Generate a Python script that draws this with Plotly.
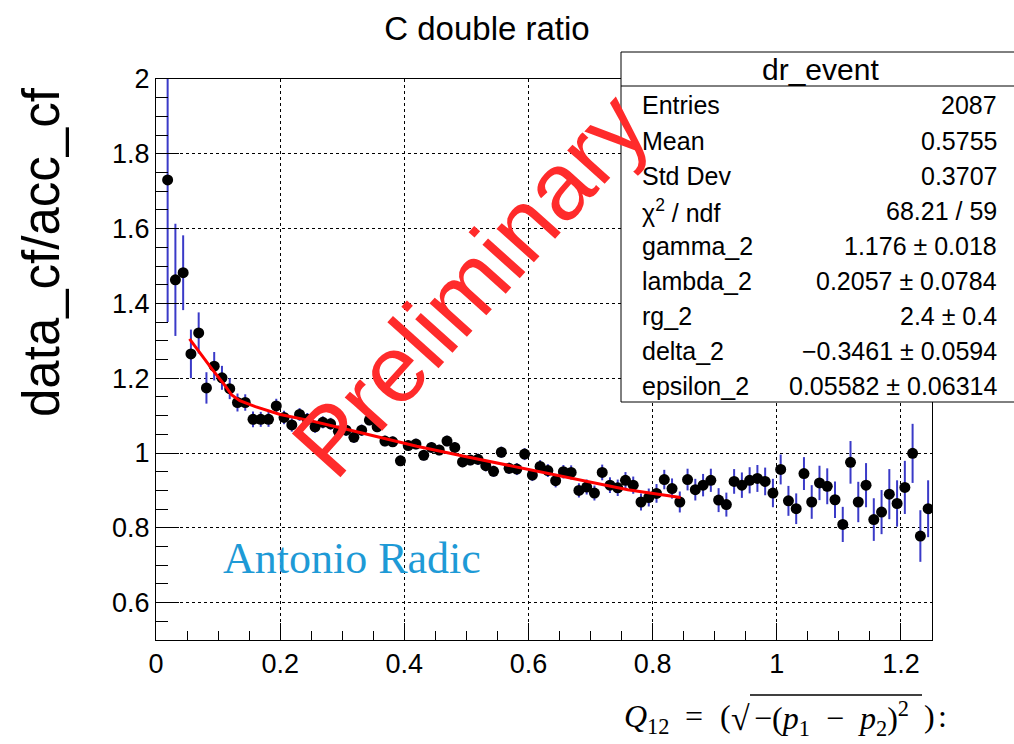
import plotly.graph_objects as go

# ---------------- data ----------------
q_bins = [0.01875, 0.03125, 0.04375, 0.05625, 0.06875, 0.08125, 0.09375, 0.10625, 0.11875, 0.13125,
          0.14375, 0.15625, 0.16875, 0.18125, 0.19375, 0.20625, 0.21875, 0.23125, 0.24375, 0.25625,
          0.26875, 0.28125, 0.29375, 0.30625, 0.31875, 0.33125, 0.34375, 0.35625, 0.36875, 0.38125,
          0.39375, 0.40625, 0.41875, 0.43125, 0.44375, 0.45625, 0.46875, 0.48125, 0.49375, 0.50625,
          0.51875, 0.53125, 0.54375, 0.55625, 0.56875, 0.58125, 0.59375, 0.60625, 0.61875, 0.63125,
          0.64375, 0.65625, 0.66875, 0.68125, 0.69375, 0.70625, 0.71875, 0.73125, 0.74375, 0.75625,
          0.76875, 0.78125, 0.79375, 0.80625, 0.81875, 0.83125, 0.84375, 0.85625, 0.86875, 0.88125,
          0.89375, 0.90625, 0.91875, 0.93125, 0.94375, 0.95625, 0.96875, 0.98125, 0.99375, 1.00625,
          1.01875, 1.03125, 1.04375, 1.05625, 1.06875, 1.08125, 1.09375, 1.10625, 1.11875, 1.13125,
          1.14375, 1.15625, 1.16875, 1.18125, 1.19375, 1.20625, 1.21875, 1.23125, 1.24375]

ratio = [1.730, 1.463, 1.482, 1.265, 1.321, 1.174, 1.232, 1.201, 1.172, 1.135,
         1.135, 1.090, 1.090, 1.090, 1.126, 1.095, 1.075, 1.103, 1.090, 1.070,
         1.082, 1.078, 1.058, 1.061, 1.042, 1.061, 1.088, 1.070, 1.032, 1.030,
         0.979, 1.020, 1.024, 0.994, 1.015, 1.008, 1.032, 1.015, 0.976, 0.981,
         0.983, 0.966, 0.951, 1.002, 0.959, 0.957, 0.997, 0.941, 0.964, 0.953,
         0.926, 0.950, 0.948, 0.900, 0.909, 0.893, 0.948, 0.914, 0.907, 0.927,
         0.914, 0.869, 0.881, 0.892, 0.929, 0.905, 0.869, 0.929, 0.902, 0.914,
         0.927, 0.874, 0.862, 0.924, 0.914, 0.927, 0.932, 0.924, 0.893, 0.956,
         0.872, 0.851, 0.945, 0.869, 0.920, 0.911, 0.875, 0.809, 0.975, 0.869,
         0.914, 0.822, 0.842, 0.890, 0.865, 0.908, 0.999, 0.778, 0.851]

ratio_err = [0.38, 0.15, 0.10, 0.065, 0.055, 0.042, 0.038, 0.032, 0.028, 0.024,
             0.022, 0.021, 0.020, 0.020, 0.019, 0.018, 0.018, 0.017, 0.017, 0.016,
             0.016, 0.016, 0.015, 0.015, 0.015, 0.015, 0.014, 0.014, 0.014, 0.014,
             0.014, 0.014, 0.014, 0.014, 0.014, 0.014, 0.014, 0.014, 0.014, 0.014,
             0.015, 0.015, 0.015, 0.015, 0.015, 0.016, 0.016, 0.016, 0.017, 0.017,
             0.018, 0.018, 0.019, 0.019, 0.020, 0.020, 0.021, 0.021, 0.022, 0.022,
             0.023, 0.023, 0.024, 0.025, 0.026, 0.027, 0.028, 0.029, 0.029, 0.030,
             0.031, 0.032, 0.032, 0.033, 0.034, 0.035, 0.036, 0.037, 0.038, 0.040,
             0.040, 0.041, 0.044, 0.045, 0.046, 0.048, 0.049, 0.047, 0.057, 0.054,
             0.059, 0.057, 0.059, 0.067, 0.062, 0.071, 0.079, 0.069, 0.076]

fit_q = [0.054, 0.070, 0.090, 0.110, 0.122, 0.135, 0.160, 0.200, 0.250, 0.300,
         0.360, 0.420, 0.500, 0.600, 0.700, 0.760, 0.845]
fit_val = [1.305, 1.268, 1.225, 1.183, 1.155, 1.140, 1.124, 1.103, 1.086, 1.066,
           1.041, 1.018, 0.990, 0.956, 0.922, 0.902, 0.881]

x_ticks = [0, 0.2, 0.4, 0.6, 0.8, 1.0, 1.2]
x_tick_text = ["0", "0.2", "0.4", "0.6", "0.8", "1", "1.2"]
y_ticks = [0.6, 0.8, 1.0, 1.2, 1.4, 1.6, 1.8, 2.0]
y_tick_text = ["0.6", "0.8", "1", "1.2", "1.4", "1.6", "1.8", "2"]

stats_labels = ["Entries", "Mean", "Std Dev", "χ<sup>2</sup> / ndf", "gamma_2",
                "lambda_2", "rg_2", "delta_2", "epsilon_2"]
stats_values = ["2087", "0.5755", "0.3707", "68.21 / 59", "1.176 ± 0.018",
                "0.2057 ± 0.0784", "2.4 ± 0.4", "−0.3461 ± 0.0594", "0.05582 ± 0.06314"]

# ---------------- layout helpers (pixel -> paper) ----------------
L, R, T, B = 156, 932, 79, 640
def px(p):
    return (p - L) / (R - L)
def py(p):
    return (B - p) / (B - T)

SANS = "Liberation Sans, Arial, Helvetica, sans-serif"
SERIF = "Liberation Serif, Times New Roman, serif"
NB = "\u00a0"

fig = go.Figure()
fig.add_trace(go.Scatter(
    x=q_bins, y=ratio, mode="markers",
    marker=dict(color="black", size=11),
    error_y=dict(type="data", array=ratio_err, color="#3a3ac8", thickness=2, width=0),
    showlegend=False,
))
fig.add_trace(go.Scatter(
    x=fit_q, y=fit_val, mode="lines",
    line=dict(color="#ff0000", width=3),
    showlegend=False,
))

axis_common = dict(
    ticks="inside", tickcolor="black", tickwidth=1,
    showline=True, linecolor="black", linewidth=1, mirror=True,
    showgrid=True, gridcolor="black", griddash="dot", gridwidth=1,
    zeroline=False, tickfont=dict(family=SANS, size=27, color="black"),
)
fig.update_xaxes(range=[0, 1.25], tickvals=x_ticks, ticktext=x_tick_text,
                 ticklen=17, minor=dict(dtick=0.05, tick0=0, ticklen=9, ticks="inside", tickcolor="black", showgrid=False),
                 **axis_common)
fig.update_yaxes(range=[0.5, 2], tickvals=y_ticks, ticktext=y_tick_text,
                 ticklen=23, minor=dict(dtick=0.05, tick0=0, ticklen=12, ticks="inside", tickcolor="black", showgrid=False),
                 **axis_common)

FY = 718  # vertical centre of the x-axis formula (pixels)
shapes = [
    dict(type="rect", xref="paper", yref="paper", x0=px(621), x1=px(1030), y0=py(402), y1=py(52),
         line=dict(color="black", width=1), fillcolor="white", layer="above"),
    dict(type="line", xref="paper", yref="paper", x0=px(621), x1=px(1030), y0=py(86), y1=py(86),
         line=dict(color="black", width=1), layer="above"),
    # overbar of the square root in the axis formula
    dict(type="line", xref="paper", yref="paper", x0=px(750), x1=px(922), y0=py(FY - 23), y1=py(FY - 23),
         line=dict(color="black", width=1.5), layer="above"),
]

def ann(text, x, y, size, family=SANS, color="black", xanchor="center", angle=0):
    return dict(text=text, xref="paper", yref="paper", x=px(x), y=py(y), showarrow=False,
                textangle=angle, font=dict(family=family, size=size, color=color),
                xanchor=xanchor, yanchor="middle")

annotations = [
    ann("data_cf/acc_cf", 42, 252, 51, angle=-90),
    ann("dr_event", 820, 69, 30),
    ann("Preliminary", 470, 284, 95, color="#ff2b2b", angle=-48),
    ann("Antonio Radic", 221, 558, 44, family=SERIF, color="#1e9ad6", xanchor="left"),
    # x-axis title pieces (formula)
    ann("<i>Q</i><sub>12</sub>", 622, FY, 32, family=SERIF, xanchor="left"),
    ann("=", 694, FY - 2, 32, family=SERIF),
    ann("(", 718, FY - 2, 32, family=SERIF, xanchor="left"),
    ann("√", 729, FY, 34, family=SERIF, xanchor="left"),
    ann("−(<i>p</i><sub>1</sub>" + NB * 2 + "−" + NB * 2 + "<i>p</i><sub>2</sub>)<sup>2</sup>",
        752, FY, 32, family=SERIF, xanchor="left"),
    ann(")", 922, FY - 2, 32, family=SERIF, xanchor="left"),
    ann(":", 936, FY - 2, 32, family=SERIF, xanchor="left"),
]
row_y = [105, 140.5, 176, 211, 246, 281, 316, 351, 386]
for lab, val, yy in zip(stats_labels, stats_values, row_y):
    annotations.append(ann(lab, 640, yy, 25, xanchor="left"))
    annotations.append(ann(val, 999, yy, 25, xanchor="right"))

fig.update_layout(
    width=1014, height=744,
    margin=dict(l=L, r=1014 - R, t=T, b=744 - B),
    paper_bgcolor="white", plot_bgcolor="white",
    title=dict(text="C double ratio", x=487 / 1014, xref="container", xanchor="center",
               y=1 - 28 / 744, yref="container", yanchor="middle",
               font=dict(family=SANS, size=33, color="black")),
    shapes=shapes, annotations=annotations,
    showlegend=False,
)

fig.write_html("out.html")
